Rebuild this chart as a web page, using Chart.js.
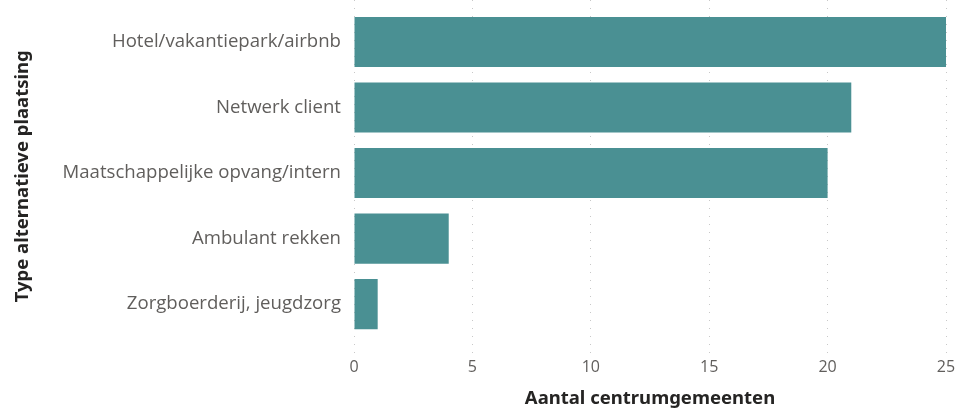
<!DOCTYPE html>
<html>
<head>
<meta charset="utf-8">
<script src="https://cdn.jsdelivr.net/npm/chart.js@4/dist/chart.umd.min.js"></script>
<style>
html,body{margin:0;padding:0;background:#fff;}
#wrap{width:956px;height:410px;position:relative;}
</style>
</head>
<body>
<div id="wrap"><canvas id="c" width="956" height="410"></canvas></div>
<script>
const categories = ["Hotel/vakantiepark/airbnb","Netwerk client","Maatschappelijke opvang/intern","Ambulant rekken","Zorgboerderij, jeugdzorg"];
const values = [25, 21, 20, 4, 1];
const xTicks = [0, 5, 10, 15, 20, 25];

const points = values.map((v, i) => ({x: v, y: i}));

new Chart(document.getElementById('c'), {
  type: 'bar',
  data: {
    datasets: [{
      data: points,
      backgroundColor: '#4A9093',
      borderWidth: 0,
      barPercentage: 0.765,
      categoryPercentage: 1
    }]
  },
  options: {
    indexAxis: 'y',
    responsive: false,
    animation: false,
    layout: {padding: {top: 0, right: 10, bottom: 0, left: 2}},
    plugins: {legend: {display: false}, tooltip: {enabled: false}},
    scales: {
      x: {
        type: 'linear',
        min: 0, max: 25,
        afterBuildTicks: s => { s.ticks = xTicks.map(v => ({value: v})); },
        afterFit: s => { s.paddingLeft = 0; s.paddingRight = 0; },
        grid: {color: '#c8c8c8', lineWidth: 1, drawTicks: false},
        border: {display: false, dash: [1, 7]},
        ticks: {color: '#605E5C', font: {family: 'Open Sans', size: 16}, padding: 5},
        title: {display: true, text: 'Aantal centrumgemeenten', color: '#252423',
          font: {family: 'Noto Sans', size: 18.5, weight: 'bold'}, padding: {top: 6, bottom: 0}}
      },
      y: {
        type: 'linear',
        reverse: true,
        offset: false,
        min: -0.64, max: 4.74,
        afterBuildTicks: s => { s.ticks = categories.map((c, i) => ({value: i})); },
        afterFit: s => { s.width = 352; s.paddingTop = 0; s.paddingBottom = 0; },
        grid: {display: false},
        border: {display: false},
        ticks: {color: '#605E5C', font: {family: 'Open Sans', size: 18.6}, padding: 5,
          callback: v => categories[v]},
        title: {display: true, text: 'Type alternatieve plaatsing', color: '#252423',
          font: {family: 'Noto Sans', size: 18.5, weight: 'bold'}, padding: {top: 10, bottom: 0}}
      }
    }
  }
});
</script>
</body>
</html>
